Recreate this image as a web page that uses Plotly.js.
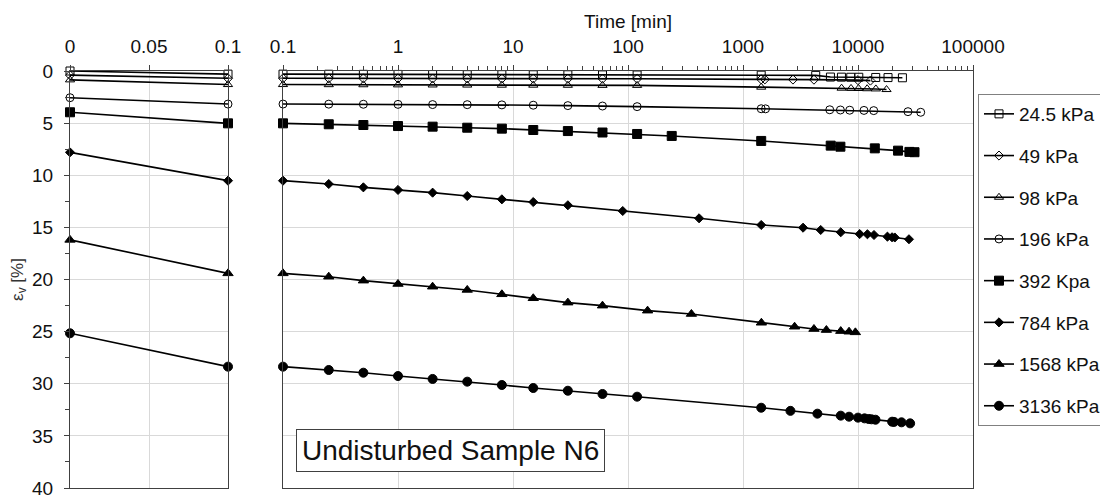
<!DOCTYPE html>
<html>
<head>
<meta charset="utf-8">
<script src="https://cdn.plot.ly/plotly-3.0.1.min.js"></script>
<style>html,body{margin:0;padding:0;background:#fff;}#chart{width:1100px;height:496px;}</style>
</head>
<body>
<div id="chart"></div>
<script>
// ---- data (time in min, vertical strain in %) ----
const seriesNames = ['24.5 kPa','49 kPa','98 kPa','196 kPa','392 Kpa','784 kPa','1568 kPa','3136 kPa'];

// initial strain at t = 0 (left linear panel)
const eps0 = [0.0, 0.4, 0.85, 2.56, 3.96, 7.8, 16.2, 25.16];

const t245 = [0.1,0.25,0.5,1,2,4,8,15,30,60,120,1440,4290,5760,7180,8650,10160,14260,18240,24330];
const e245 = [0.30,0.31,0.32,0.33,0.34,0.35,0.35,0.36,0.36,0.37,0.38,0.40,0.42,0.58,0.59,0.60,0.60,0.62,0.63,0.65];

const t49 = [0.1,0.25,0.5,1,2,4,8,15,30,60,120,1440,1550,2720,4140,10000,12820];
const e49 = [0.70,0.70,0.71,0.71,0.72,0.72,0.73,0.73,0.74,0.74,0.75,0.80,0.80,0.82,0.83,0.88,0.92];

const t98 = [0.1,0.25,0.5,1,2,4,8,15,30,60,120,1440,7200,8700,10100,12000,14300,17700];
const e98 = [1.30,1.31,1.32,1.33,1.34,1.35,1.36,1.36,1.37,1.38,1.38,1.55,1.65,1.67,1.68,1.70,1.72,1.78];

const t196 = [0.1,0.25,0.5,1,2,4,8,15,30,60,120,1440,1570,5680,7030,8470,11270,13700,27200,35100];
const e196 = [3.17,3.18,3.19,3.20,3.22,3.23,3.25,3.28,3.32,3.36,3.42,3.62,3.63,3.72,3.74,3.76,3.78,3.80,3.90,3.96];

const t392 = [0.1,0.25,0.5,1,2,4,8,15,30,60,120,240,1440,5790,7030,14000,22300,28000,31000];
const e392 = [5.02,5.11,5.18,5.28,5.34,5.44,5.53,5.66,5.76,5.90,6.04,6.23,6.71,7.16,7.26,7.42,7.64,7.76,7.79];

const t784 = [0.1,0.25,0.5,1,2,4,8,15,30,90,415,1440,3330,4740,7080,10350,12080,13780,18030,19770,20890,27740];
const e784 = [10.52,10.84,11.16,11.41,11.67,11.99,12.31,12.57,12.88,13.43,14.13,14.77,15.03,15.25,15.47,15.64,15.66,15.73,15.89,15.95,15.97,16.14];

const t1568 = [0.1,0.25,0.5,1,2,4,8,15,30,60,148,356,1445,2810,4140,5310,7080,8360,9490];
const e1568 = [19.41,19.73,20.11,20.43,20.69,21.00,21.42,21.80,22.22,22.51,22.99,23.31,24.15,24.53,24.75,24.85,24.95,25.01,25.07];

const t3136 = [0.1,0.25,0.5,1,2,4,8,15,30,60,120,1440,2585,4436,7080,8360,10000,11400,12400,13100,14200,19800,20600,23900,28400];
const e3136 = [28.36,28.68,28.94,29.26,29.54,29.80,30.12,30.41,30.67,30.98,31.24,32.30,32.60,32.87,33.06,33.16,33.25,33.32,33.38,33.41,33.45,33.64,33.66,33.70,33.80];

const leftTime = [0, 0.1];
const leftTickVals = [0, 0.05, 0.1];
const leftTickText = ['0', '0.05', '0.1'];
const logTickVals = [0.1, 1, 10, 100, 1000, 10000, 100000];
const logTickText = ['0.1', '1', '10', '100', '1000', '10000', '100000'];
const logMinorVals = [0.2,0.3,0.4,0.5,0.6,0.7,0.8,0.9,2,3,4,5,6,7,8,9,20,30,40,50,60,70,80,90,
  200,300,400,500,600,700,800,900,2000,3000,4000,5000,6000,7000,8000,9000,
  20000,30000,40000,50000,60000,70000,80000,90000];
const yTickVals = [0, 5, 10, 15, 20, 25, 30, 35, 40];
const yTickText = ['0', '5', '10', '15', '20', '25', '30', '35', '40'];

// ---- styling ----
const times = [t245, t49, t98, t196, t392, t784, t1568, t3136];
const strains = [e245, e49, e98, e196, e392, e784, e1568, e3136];
const symbols = ['square-open','diamond-open','triangle-up-open','circle-open','square','diamond','triangle-up','circle'];
const sizes = [8, 7, 8, 8, 9, 7, 9, 9];

const FONT = 'Liberation Sans, Arial, sans-serif';
const traces = [];
for (let i = 0; i < seriesNames.length; i++) {
  const mk = {symbol: symbols[i], size: sizes[i], color: '#000', line: {color: '#000', width: 1}};
  traces.push({
    x: times[i], y: strains[i], xaxis: 'x2', yaxis: 'y2', type: 'scatter', mode: 'lines+markers',
    name: seriesNames[i], legendgroup: 'g' + i, line: {color: '#000', width: 1.6}, marker: mk,
    cliponaxis: false
  });
}
for (let i = 0; i < seriesNames.length; i++) {
  const mk = {symbol: symbols[i], size: sizes[i], color: '#000', line: {color: '#000', width: 1}};
  traces.push({
    x: leftTime, y: [eps0[i], strains[i][0]], xaxis: 'x', yaxis: 'y', type: 'scatter', mode: 'lines+markers',
    showlegend: false, line: {color: '#000', width: 1.6}, marker: mk, cliponaxis: false
  });
}

const W = 1100, H = 496;
const L = 70, R = 127, T = 71, B = 8;
const pw = W - L - R, ph = H - T - B;
const gridC = '#d9d9d9', lineC = '#404040';

const layout = {
  width: W, height: H,
  margin: {l: L, r: R, t: T, b: B, pad: 0, autoexpand: false},
  paper_bgcolor: '#fff', plot_bgcolor: '#fff',
  font: {family: FONT, size: 19, color: '#111'},
  showlegend: true,
  xaxis: {
    domain: [0, 158 / pw], range: [0, 0.1], side: 'top', anchor: 'y',
    tickmode: 'array', tickvals: leftTickVals, ticktext: leftTickText,
    ticks: 'outside', ticklen: 5, tickcolor: lineC, ticklabelstandoff: 4,
    showgrid: true, gridcolor: gridC, gridwidth: 1, zeroline: false,
    showline: true, linecolor: lineC, linewidth: 1, mirror: true,
    tickfont: {size: 19, family: FONT, color: '#111'}, fixedrange: true
  },
  xaxis2: {
    domain: [213 / pw, 1], type: 'log', range: [-1, 5], side: 'top', anchor: 'y2',
    tickmode: 'array', tickvals: logTickVals, ticktext: logTickText,
    ticks: 'outside', ticklen: 5, tickcolor: lineC, ticklabelstandoff: 4,
    minor: {ticks: 'outside', ticklen: 4, tickcolor: lineC, showgrid: false, tickvals: logMinorVals},
    showgrid: true, gridcolor: gridC, gridwidth: 1, zeroline: false,
    showline: true, linecolor: lineC, linewidth: 1, mirror: true,
    tickfont: {size: 19, family: FONT, color: '#111'},
    title: {text: 'Time [min]', font: {size: 19, family: FONT, color: '#111'}, standoff: 2},
    fixedrange: true
  },
  yaxis: {
    domain: [0, 1], range: [40, 0], anchor: 'x',
    tickmode: 'array', tickvals: yTickVals, ticktext: yTickText, ticklabeloverflow: 'allow',
    ticks: 'outside', ticklen: 5, tickcolor: lineC, ticklabelstandoff: 7,
    minor: {ticks: 'outside', ticklen: 4, dtick: 2.5, tick0: 2.5, tickcolor: lineC, showgrid: false},
    showgrid: true, gridcolor: gridC, gridwidth: 1, zeroline: false,
    showline: true, linecolor: lineC, linewidth: 1, mirror: true,
    tickfont: {size: 19, family: FONT, color: '#111'},
    title: {text: 'ε<sub>v</sub> [%]', font: {size: 17, family: FONT, color: '#333'}, standoff: 4},
    fixedrange: true
  },
  yaxis2: {
    domain: [0, 1], range: [40, 0], anchor: 'x2', matches: 'y',
    tickmode: 'array', tickvals: yTickVals, showticklabels: false, ticks: '',
    showgrid: true, gridcolor: gridC, gridwidth: 1, zeroline: false,
    showline: true, linecolor: lineC, linewidth: 1, mirror: true,
    fixedrange: true
  },
  legend: {
    x: (978 - L) / pw, xanchor: 'left', y: 1 - (94 - T) / ph, yanchor: 'top',
    bordercolor: '#808080', borderwidth: 1, bgcolor: '#fff',
    font: {size: 19, family: FONT, color: '#111'},
    traceorder: 'grouped', tracegroupgap: 14, itemwidth: 30
  },
  annotations: [{
    xref: 'paper', yref: 'paper', x: (450 - L) / pw, y: (H - B - 450.5) / ph,
    xanchor: 'center', yanchor: 'middle', showarrow: false,
    text: 'Undisturbed Sample N6', font: {size: 28, family: FONT, color: '#111'},
    bordercolor: '#404040', borderwidth: 1, borderpad: 5, bgcolor: '#fff'
  }]
};

Plotly.newPlot('chart', traces, layout, {displayModeBar: false, staticPlot: true});
</script>
</body>
</html>
